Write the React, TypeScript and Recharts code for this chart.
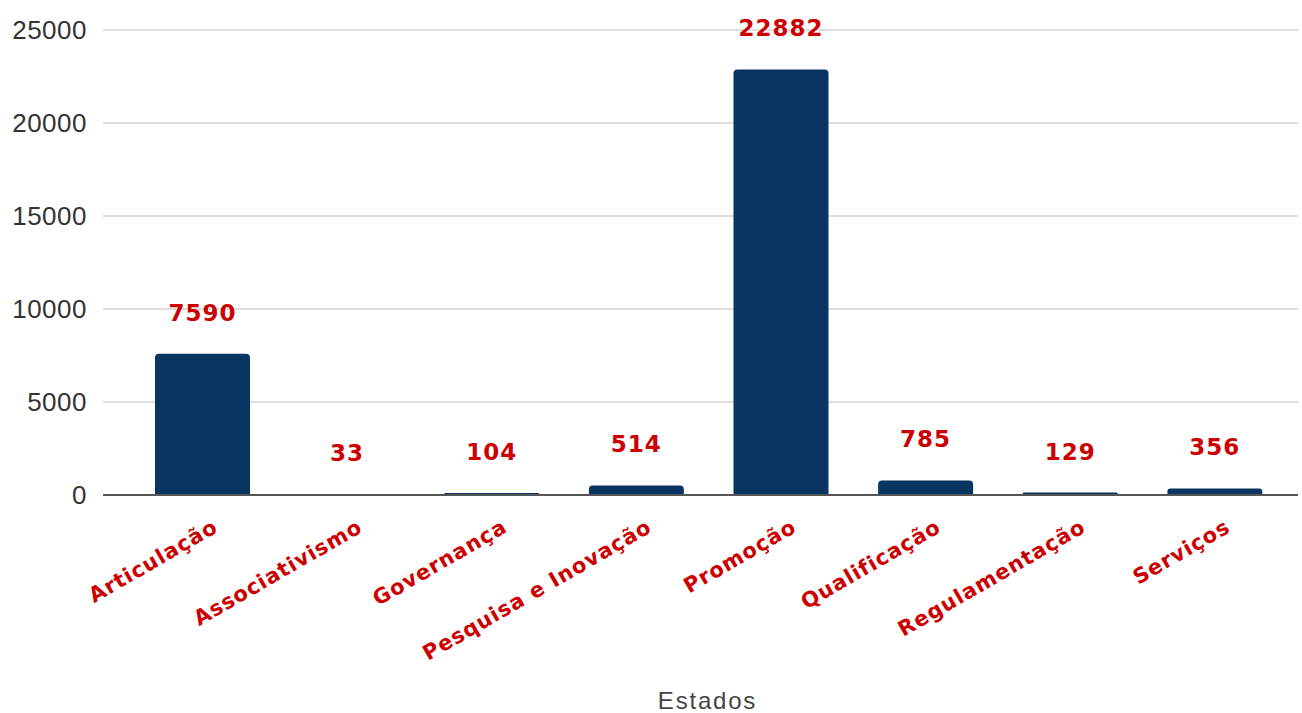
import { BarChart, Bar, XAxis, YAxis, CartesianGrid, LabelList } from 'recharts';

const categories = [
  'Articulação',
  'Associativismo',
  'Governança',
  'Pesquisa e Inovação',
  'Promoção',
  'Qualificação',
  'Regulamentação',
  'Serviços',
];
const values = [7590, 33, 104, 514, 22882, 785, 129, 356];
const yTicks = [0, 5000, 10000, 15000, 20000, 25000];

const data = categories.map((name, i) => ({ name, value: values[i] }));

const SANS = '"Liberation Sans", Arial, sans-serif';
const BOLD = '"DejaVu Sans", Verdana, sans-serif';

// rótulos do eixo X inclinados
const RotatedTick = (props: any) => {
  const { x, y, payload } = props;
  return (
    <g transform={`translate(${x + 17},${y + 28})`}>
      <text
        transform="rotate(-30)"
        textAnchor="end"
        fill="#cc0000"
        fontSize={21}
        fontWeight="bold"
        letterSpacing={1}
        fontFamily={BOLD}
      >
        {payload.value}
      </text>
    </g>
  );
};

export default function App() {
  return (
    <div style={{ position: 'absolute', left: 0, top: 0, background: '#fff' }}>
      <BarChart
        width={1302}
        height={713}
        data={data}
        margin={{ top: 30, right: 4, left: 0, bottom: 0 }}
        barCategoryGap={25}
      >
        <CartesianGrid vertical={false} stroke="#dedede" strokeWidth={2} />
        <XAxis
          dataKey="name"
          height={218}
          padding={{ left: 27, right: 11 }}
          interval={0}
          tickLine={false}
          stroke="#555"
          strokeWidth={2}
          tick={<RotatedTick />}
          label={{
            value: 'Estados',
            position: 'insideBottom',
            offset: 4,
            dx: 7,
            fill: '#444',
            fontSize: 24,
            letterSpacing: 1.8,
            fontFamily: SANS,
          }}
        />
        <YAxis
          width={103}
          domain={[0, 25000]}
          ticks={yTicks}
          axisLine={false}
          tickLine={false}
          tickSize={0}
          tickMargin={16}
          tick={{ fill: '#333', fontSize: 26, fontFamily: SANS, letterSpacing: 0.5 }}
        />
        <Bar dataKey="value" fill="#083561" radius={[4, 4, 0, 0]} isAnimationActive={false}>
          <LabelList
            dataKey="value"
            position="top"
            offset={33}
            fill="#cc0000"
            fontSize={23}
            fontWeight="bold"
            letterSpacing={1}
            fontFamily={BOLD}
          />
        </Bar>
      </BarChart>
    </div>
  );
}
